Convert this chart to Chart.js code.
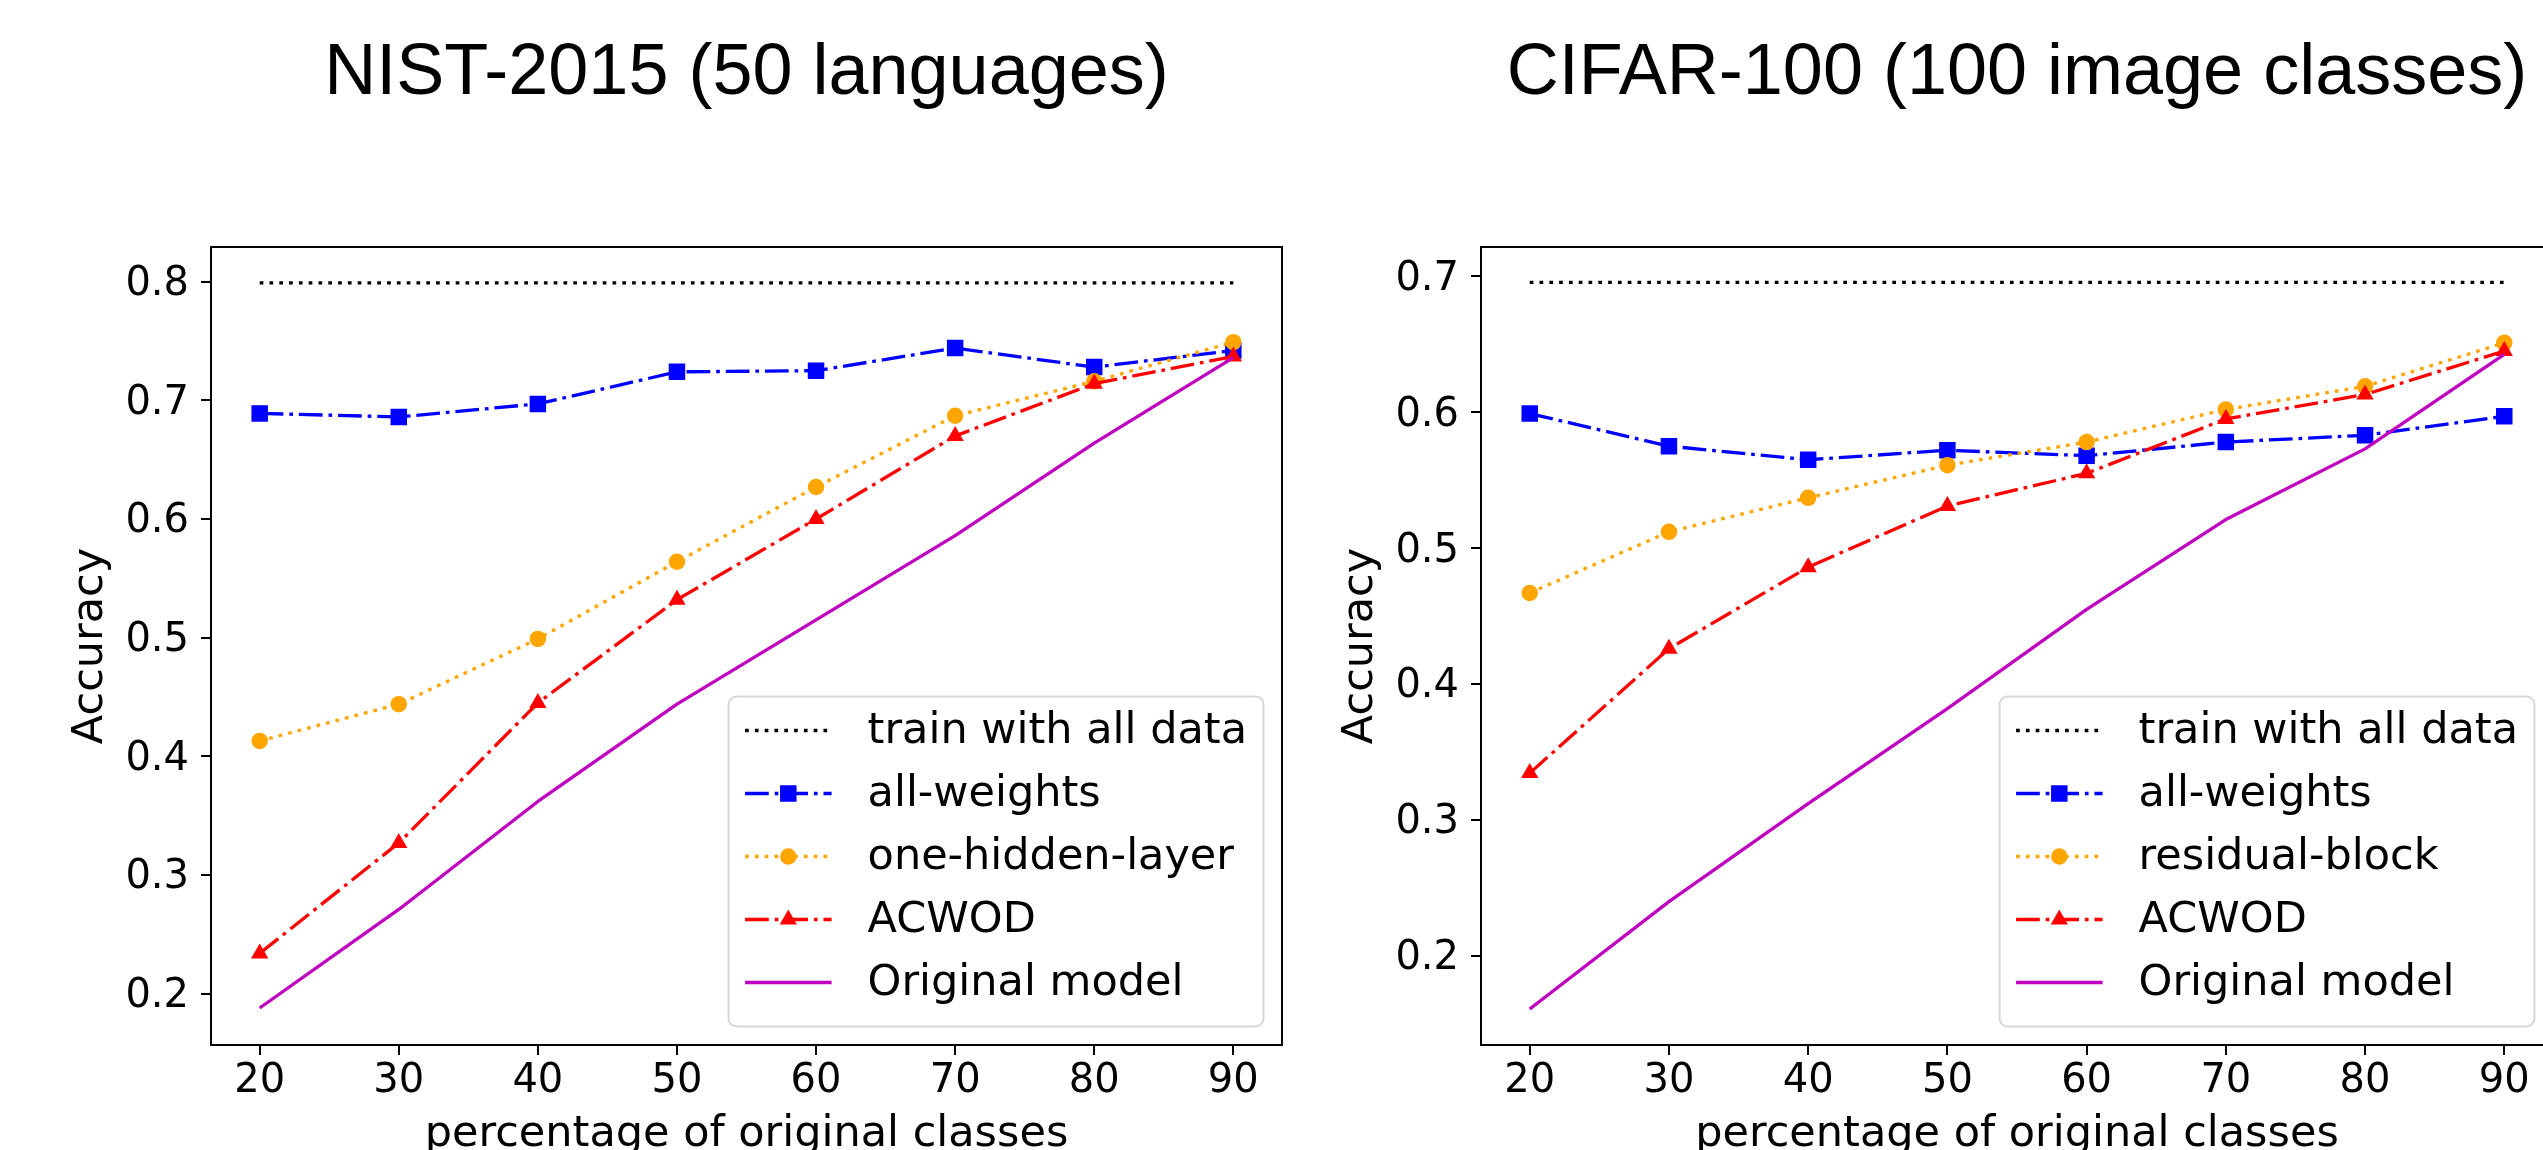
<!DOCTYPE html>
<html>
<head>
<meta charset="utf-8">
<title>Accuracy vs percentage of original classes</title>
<script src="https://cdn.jsdelivr.net/npm/chart.js"></script>
<style>
    html, body { margin: 0; padding: 0; background: #fff; overflow: hidden; }
    #page { position: relative; width: 2543px; height: 1150px; overflow: hidden; }
    canvas { position: absolute; top: 0; }
    #nistChart { left: 0; }
    #cifarChart { left: 1290px; }
</style>
</head>
<body>
<div id="page">
    <canvas id="nistChart" width="1300" height="1200"></canvas>
    <canvas id="cifarChart" width="1300" height="1200"></canvas>
</div>
<script>
// percentage of original classes
const categories = [20, 30, 40, 50, 60, 70, 80, 90];
const xTicks = [20, 30, 40, 50, 60, 70, 80, 90];

// NIST-2015 (50 languages)
const nistLabels = ['train with all data', 'all-weights', 'one-hidden-layer', 'ACWOD', 'Original model'];
const nistTrainAll = [0.799, 0.799, 0.799, 0.799, 0.799, 0.799, 0.799, 0.799];
const nistAllWeights = [0.689, 0.686, 0.697, 0.724, 0.725, 0.744, 0.728, 0.742];
const nistOneHidden = [0.413, 0.444, 0.499, 0.564, 0.627, 0.687, 0.716, 0.749];
const nistAcwod = [0.234, 0.327, 0.445, 0.532, 0.600, 0.670, 0.714, 0.737];
const nistOriginal = [0.188, 0.271, 0.362, 0.444, 0.515, 0.586, 0.664, 0.736];
const nistYTicks = [0.2, 0.3, 0.4, 0.5, 0.6, 0.7, 0.8];

// CIFAR-100 (100 image classes)
const cifarLabels = ['train with all data', 'all-weights', 'residual-block', 'ACWOD', 'Original model'];
const cifarTrainAll = [0.6955, 0.6955, 0.6955, 0.6955, 0.6955, 0.6955, 0.6955, 0.6955];
const cifarAllWeights = [0.599, 0.575, 0.565, 0.572, 0.568, 0.578, 0.583, 0.597];
const cifarResidual = [0.467, 0.512, 0.537, 0.561, 0.578, 0.602, 0.619, 0.651];
const cifarAcwod = [0.3345, 0.426, 0.486, 0.531, 0.555, 0.595, 0.613, 0.645];
const cifarOriginal = [0.161, 0.240, 0.312, 0.382, 0.455, 0.521, 0.573, 0.6425];
const cifarYTicks = [0.2, 0.3, 0.4, 0.5, 0.6, 0.7];

// matplotlib-ish line styles, same order as the labels
const dotted = [3.7, 6.1];
const dashDot = [23.7, 5.9, 3.7, 5.9];
const styles = [
    { color: '#000000', dash: dotted, point: false, radius: 0 },
    { color: '#0000ff', dash: dashDot, point: 'rect', radius: 10.6 },
    { color: '#ffa500', dash: dotted, point: 'circle', radius: 7.5 },
    { color: '#ff0000', dash: dashDot, point: 'triangle', radius: 8.5 },
    { color: '#bf00bf', dash: [], point: false, radius: 0 }
];

Chart.defaults.color = '#000';
Chart.defaults.font.family = '"DejaVu Sans", sans-serif';

function makeDatasets(labels, series) {
    return series.map(function (values, i) {
        const st = styles[i];
        return {
            label: labels[i],
            data: values.map(function (v, j) { return { x: categories[j], y: v }; }),
            borderColor: st.color,
            backgroundColor: st.color,
            borderWidth: 3.3,
            borderDash: st.dash,
            borderCapStyle: 'butt',
            borderJoinStyle: 'round',
            tension: 0,
            fill: false,
            pointStyle: st.point || 'circle',
            pointRadius: st.radius,
            pointHoverRadius: st.radius,
            pointBorderWidth: 1.5,
            pointBorderColor: st.color,
            pointBackgroundColor: st.color,
            order: series.length - i   // later series drawn on top, like pyplot
        };
    });
}

// legend in the lower right corner of the axes
const boxLegend = {
    id: 'boxLegend',
    afterDatasetsDraw(chart) {
        const ctx = chart.ctx;
        const area = chart.chartArea;
        const sets = chart.data.datasets;
        const pad = 16.5, handle = 86.5, gap = 36, rowH = 63;
        ctx.save();
        ctx.font = '43px "DejaVu Sans"';
        let textW = 0;
        sets.forEach(function (d) { textW = Math.max(textW, ctx.measureText(d.label).width); });
        const w = pad * 2 + handle + gap + textW;
        const h = 330;
        const right = area.right - 18.5;
        const bottom = area.bottom - 18.5;
        const left = right - w;
        const top = bottom - h;

        ctx.beginPath();
        ctx.roundRect(left, top, w, h, 8);
        ctx.fillStyle = 'rgba(255,255,255,0.8)';
        ctx.fill();
        ctx.lineWidth = 2;
        ctx.strokeStyle = 'rgba(204,204,204,0.8)';
        ctx.stroke();

        sets.forEach(function (d, i) {
            const y = top + 34 + i * rowH;
            const x0 = left + pad;
            const x1 = x0 + handle;
            ctx.beginPath();
            ctx.setLineDash(d.borderDash);
            ctx.lineCap = 'butt';
            ctx.lineWidth = d.borderWidth;
            ctx.strokeStyle = d.borderColor;
            ctx.moveTo(x0, y);
            ctx.lineTo(x1, y);
            ctx.stroke();
            ctx.setLineDash([]);
            if (d.pointRadius > 0) {
                ctx.fillStyle = d.pointBackgroundColor;
                ctx.strokeStyle = d.pointBorderColor;
                ctx.lineWidth = d.pointBorderWidth;
                Chart.helpers.drawPoint(ctx, {
                    pointStyle: d.pointStyle,
                    radius: d.pointRadius,
                    borderWidth: d.pointBorderWidth,
                    rotation: 0
                }, (x0 + x1) / 2, y);
            }
            ctx.fillStyle = '#000';
            ctx.textAlign = 'left';
            ctx.textBaseline = 'alphabetic';
            ctx.fillText(d.label, x1 + gap, y + 12.6);
        });
        ctx.restore();
    }
};

// top and right spines
const axesFrame = {
    id: 'axesFrame',
    afterDraw(chart) {
        const a = chart.chartArea;
        const ctx = chart.ctx;
        ctx.save();
        ctx.strokeStyle = '#000';
        ctx.lineWidth = 2;
        ctx.strokeRect(a.left, a.top, a.right - a.left, a.bottom - a.top);
        ctx.restore();
    }
};

function makeChart(canvasId, opts) {
    const ctx = document.getElementById(canvasId).getContext('2d');
    return new Chart(ctx, {
        type: 'line',
        data: { datasets: makeDatasets(opts.labels, opts.series) },
        options: {
            responsive: false,
            animation: false,
            devicePixelRatio: 1,
            layout: { padding: { left: 0, right: opts.padRight, top: 0, bottom: 0 } },
            plugins: {
                legend: { display: false },
                tooltip: { enabled: false },
                title: {
                    display: true,
                    text: opts.title,
                    fullSize: false,
                    color: '#000',
                    font: { family: '"Liberation Sans", Arial, sans-serif', size: 72, weight: 'normal', lineHeight: 1.2 },
                    padding: { top: 30.8, bottom: 129.8 }
                }
            },
            scales: {
                x: {
                    type: 'linear',
                    position: 'bottom',
                    min: 16.5,
                    max: 93.5,
                    afterBuildTicks: function (s) { s.ticks = xTicks.map(function (v) { return { value: v }; }); },
                    afterFit: function (s) { s.height = 155; },
                    border: { display: true, color: '#000', width: 2 },
                    grid: { drawOnChartArea: false, drawTicks: true, tickLength: 10, lineWidth: 2, color: '#000' },
                    ticks: {
                        padding: 3,
                        font: { size: 40 },
                        color: '#000',
                        maxRotation: 0,
                        autoSkip: false,
                        callback: function (v) { return String(v); }
                    },
                    title: {
                        display: true,
                        text: 'percentage of original classes',
                        color: '#000',
                        font: { size: 43, lineHeight: 1.2 },
                        padding: { top: 0, bottom: 39 }
                    }
                },
                y: {
                    min: opts.yMin,
                    max: opts.yMax,
                    afterBuildTicks: function (s) { s.ticks = opts.yTicks.map(function (v) { return { value: v }; }); },
                    afterFit: function (s) { s.width = opts.yAxisWidth; },
                    border: { display: true, color: '#000', width: 2 },
                    grid: { drawOnChartArea: false, drawTicks: true, tickLength: 10, lineWidth: 2, color: '#000' },
                    ticks: {
                        padding: 12,
                        labelOffset: 3,
                        font: { size: 40 },
                        color: '#000',
                        autoSkip: false,
                        callback: function (v) { return v.toFixed(1); }
                    },
                    title: {
                        display: true,
                        text: 'Accuracy',
                        color: '#000',
                        font: { size: 43, lineHeight: 1.2 },
                        padding: { top: opts.yTitlePad, bottom: 0 }
                    }
                }
            }
        },
        plugins: [boxLegend, axesFrame]
    });
}

makeChart('nistChart', {
    title: 'NIST-2015 (50 languages)',
    labels: nistLabels,
    series: [nistTrainAll, nistAllWeights, nistOneHidden, nistAcwod, nistOriginal],
    yTicks: nistYTicks,
    yMin: 0.1568,
    yMax: 0.8292,
    yAxisWidth: 211,
    yTitlePad: 65.3,
    padRight: 18
});

makeChart('cifarChart', {
    title: 'CIFAR-100 (100 image classes)',
    labels: cifarLabels,
    series: [cifarTrainAll, cifarAllWeights, cifarResidual, cifarAcwod, cifarOriginal],
    yTicks: cifarYTicks,
    yMin: 0.1345,
    yMax: 0.7215,
    yAxisWidth: 191,
    yTitlePad: 45.3,
    padRight: 37
});
</script>
</body>
</html>
